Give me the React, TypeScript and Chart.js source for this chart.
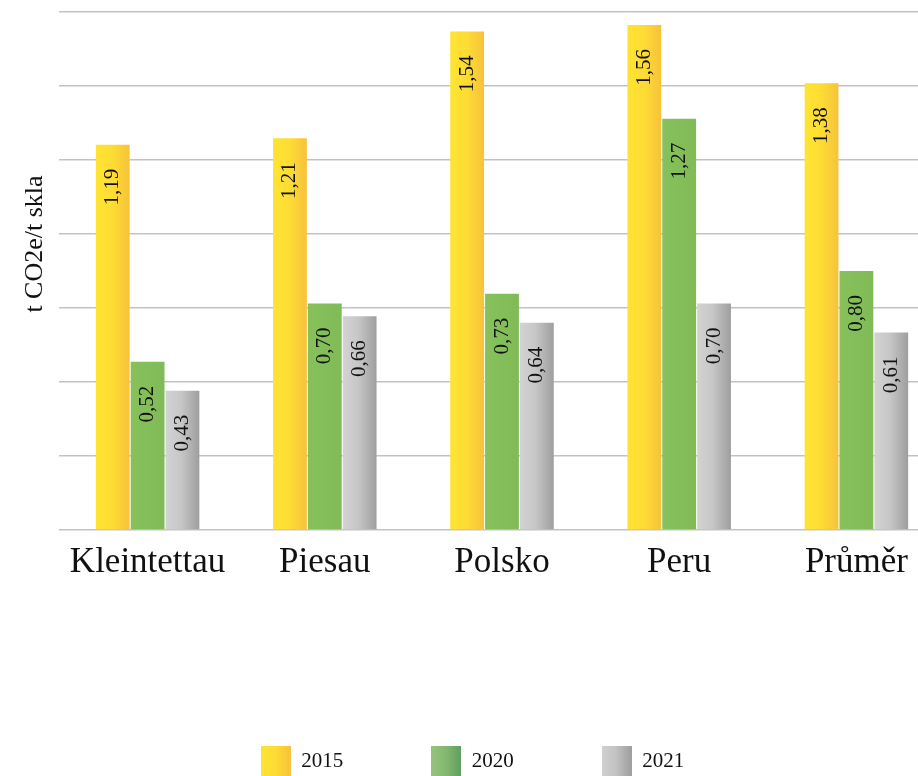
import { useEffect, useRef } from 'react';
import { Chart, registerables } from 'chart.js';

Chart.register(...registerables);

// ---- data ----
const CATEGORIES = ['Kleintettau', 'Piesau', 'Polsko', 'Peru', 'Průměr'];
const SERIES_LABELS = ['2015', '2020', '2021'];
const VALUES_2015 = [1.19, 1.21, 1.54, 1.56, 1.38];
const VALUES_2020 = [0.52, 0.7, 0.73, 1.27, 0.8];
const VALUES_2021 = [0.43, 0.66, 0.64, 0.7, 0.61];
const Y_TITLE = 't CO2e/t skla';
const Y_MAX = 1.6;
const Y_GRID_STEPS = 7;

// ---- style ----
const FONT = '"Liberation Serif", "Times New Roman", serif';
const BAR_GRADIENTS: [number, string][][] = [
  [[0, '#FFE433'], [0.5, '#FDDC33'], [1, '#F7C23B']],
  [[0, '#86C15C'], [1, '#80BB57']],
  [[0, '#D3D3D3'], [0.45, '#C7C7C7'], [1, '#9E9E9E']],
];
const LEGEND_GRADIENTS: [number, string][][] = [
  [[0, '#FFE433'], [0.5, '#FDDC33'], [1, '#F7C23B']],
  [[0, '#95C57D'], [0.5, '#83B870'], [1, '#5E9E60']],
  [[0, '#D0D0D0'], [0.45, '#C4C4C4'], [1, '#9E9E9E']],
];
const SOLID = ['#FDDC33', '#84BF5A', '#BDBDBD'];
const CAT_PCT = 0.59;
const BAR_PCT = 0.97;
const LABEL_OFFSET = 24;
const Y_TITLE_X = 35;
const Y_TITLE_SHIFT = -27;

const fmt = (v: number) => v.toFixed(2).replace('.', ',');

function makeLegendImage(stops: [number, string][]) {
  const c = document.createElement('canvas');
  c.width = 30;
  c.height = 32;
  const g = c.getContext('2d')!;
  const grad = g.createLinearGradient(0, 0, 30, 0);
  stops.forEach(([o, col]) => grad.addColorStop(o, col));
  g.fillStyle = grad;
  g.fillRect(0, 0, 30, 32);
  return c;
}

const valueLabels = {
  id: 'valueLabels',
  afterDatasetsDraw(chart: any) {
    const ctx = chart.ctx;
    chart.data.datasets.forEach((ds: any, di: number) => {
      const meta = chart.getDatasetMeta(di);
      meta.data.forEach((bar: any, i: number) => {
        const v = ds.data[i];
        ctx.save();
        ctx.translate(bar.x, bar.y + LABEL_OFFSET);
        ctx.rotate(-Math.PI / 2);
        ctx.textAlign = 'right';
        ctx.textBaseline = 'middle';
        ctx.font = `21px ${FONT}`;
        ctx.fillStyle = '#111';
        ctx.fillText(fmt(v), 0, 0);
        ctx.restore();
      });
    });
  },
};

const yTitle = {
  id: 'yTitle',
  afterDraw(chart: any) {
    const ctx = chart.ctx;
    const a = chart.chartArea;
    ctx.save();
    ctx.translate(Y_TITLE_X, (a.top + a.bottom) / 2 + Y_TITLE_SHIFT);
    ctx.rotate(-Math.PI / 2);
    ctx.textAlign = 'center';
    ctx.textBaseline = 'middle';
    ctx.font = `26px ${FONT}`;
    ctx.fillStyle = '#111';
    ctx.fillText(Y_TITLE, 0, 0);
    ctx.restore();
  },
};

export default function App() {
  const ref = useRef<HTMLCanvasElement | null>(null);

  useEffect(() => {
    if (!ref.current) return;
    const legendImgs = LEGEND_GRADIENTS.map(makeLegendImage);
    const nSeries = SERIES_LABELS.length;

    const barColor = (c: any) => {
      const di = c.datasetIndex;
      if (c.type !== 'data') return SOLID[di];
      const xs = c.chart.scales.x;
      if (!xs || !xs.width) return SOLID[di];
      const size = (xs.width / CATEGORIES.length) * CAT_PCT;
      const chunk = size / nSeries;
      const center = xs.getPixelForValue(c.dataIndex) - size / 2 + chunk * (di + 0.5);
      const w = chunk * BAR_PCT;
      if (!isFinite(center)) return SOLID[di];
      const g = c.chart.ctx.createLinearGradient(center - w / 2, 0, center + w / 2, 0);
      BAR_GRADIENTS[di].forEach(([o, col]) => g.addColorStop(o, col));
      return g;
    };

    const series = [VALUES_2015, VALUES_2020, VALUES_2021];
    const chart = new Chart(ref.current, {
      type: 'bar',
      data: {
        labels: CATEGORIES,
        datasets: series.map((vals, i) => ({
          label: SERIES_LABELS[i],
          data: vals,
          backgroundColor: barColor,
          borderWidth: 0,
          categoryPercentage: CAT_PCT,
          barPercentage: BAR_PCT,
        })),
      },
      options: {
        responsive: false,
        animation: false,
        layout: { padding: { top: 12, left: 0, right: 0, bottom: 0 } },
        scales: {
          x: {
            grid: { display: false, drawTicks: false },
            border: { display: false },
            ticks: {
              font: { family: FONT, size: 35 },
              color: '#111',
              padding: 12,
              maxRotation: 0,
              autoSkip: false,
            },
            afterFit: (s: any) => {
              s.height = 133;
            },
          },
          y: {
            min: 0,
            max: Y_MAX,
            z: 1,
            ticks: { display: false },
            grid: { color: 'rgba(0,0,0,0.24)', lineWidth: 1.5, drawTicks: false },
            border: { display: false },
            afterBuildTicks: (s: any) => {
              const t = [];
              for (let k = 0; k <= Y_GRID_STEPS; k++) t.push({ value: (Y_MAX * k) / Y_GRID_STEPS });
              s.ticks = t;
            },
            afterFit: (s: any) => {
              s.width = 59;
            },
            title: { display: false, text: Y_TITLE },
          },
        },
        plugins: {
          tooltip: { enabled: false },
          legend: {
            position: 'bottom',
            labels: {
              usePointStyle: true,
              pointStyleWidth: 30,
              padding: 88,
              color: '#111',
              font: { family: FONT, size: 21 },
              generateLabels: (ch: any) =>
                ch.data.datasets.map((ds: any, i: number) => ({
                  text: ds.label,
                  pointStyle: legendImgs[i],
                  fillStyle: SOLID[i],
                  strokeStyle: 'rgba(0,0,0,0)',
                  lineWidth: 0,
                  hidden: false,
                  datasetIndex: i,
                  fontColor: '#111',
                })),
            },
          },
        },
      } as any,
      plugins: [valueLabels, yTitle],
    });
    return () => chart.destroy();
  }, []);

  return (
    <div
      style={{
        position: 'fixed',
        left: 0,
        top: 0,
        width: 918,
        height: 776,
        overflow: 'hidden',
        background: '#fff',
      }}
    >
      <canvas ref={ref} width={945} height={782} style={{ display: 'block', width: 945, height: 782 }} />
    </div>
  );
}
